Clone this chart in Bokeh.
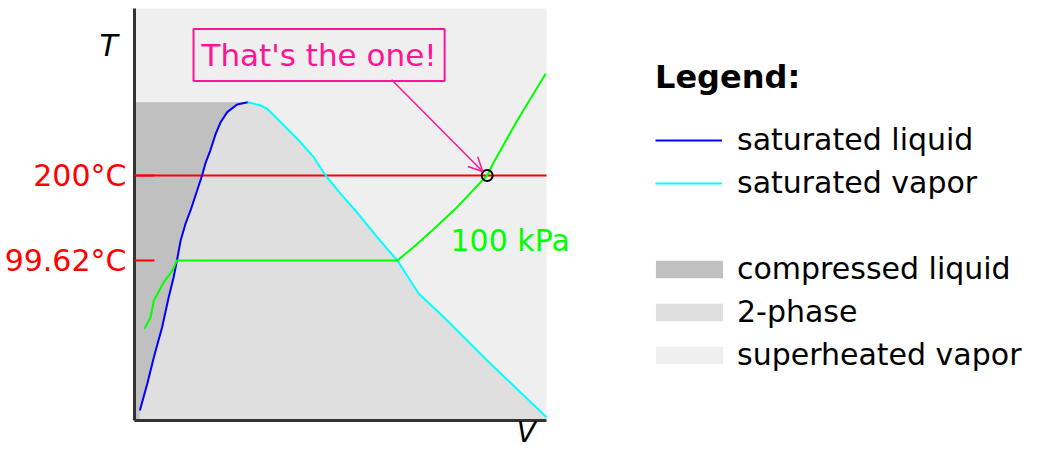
from bokeh.plotting import figure
from bokeh.models import (Range1d, FixedTicker, Label, Arrow, OpenHead,
                          Legend, LegendItem)
from bokeh.embed import file_html
from bokeh.resources import INLINE

FONT = "DejaVu Sans"

# Schematic T-v diagram of water: specific volume in arbitrary units, T in °C
V_MIN, V_MAX = 0.0, 100.0
T_MIN, T_MAX = -89.3, 397.2

V_CRIT, T_CRIT = 27.5, 286.5

# saturated liquid line, from the bottom up to the critical point
sat_liq_v = [1.3, 3.1, 4.7, 6.7, 8.3, 9.5, 10.3, 11.2, 12.4, 13.6, 15.2,
             16.4, 17.2, 18.4, 19.7, 20.9, 22.5, 24.9, 27.5]
sat_liq_T = [-77.5, -46.0, -14.6, 20.9, 56.3, 79.9, 99.62, 123.2, 143.3,
             158.7, 182.3, 200.0, 214.2, 229.5, 249.2, 262.9, 274.8, 283.8,
             286.5]

# saturated vapor line, from the critical point down
sat_vap_v = [27.5, 30.6, 32.2, 34.6, 39.9, 43.5, 46.4, 50.0, 53.6, 58.9,
             63.8, 69.0, 75.1, 85.6, 100.0]
sat_vap_T = [286.5, 282.7, 278.8, 267.3, 241.3, 221.6, 200.0, 178.7, 158.7,
             127.1, 99.62, 60.3, 32.7, -18.5, -85.4]

# 100 kPa isobar
isobar_v = [2.4, 3.9, 4.7, 7.1, 9.2, 10.3, 63.8, 68.2, 72.7, 78.3, 84.0,
            85.6, 87.2, 92.9, 96.1, 99.8]
isobar_T = [18.9, 32.7, 52.4, 74.0, 87.8, 99.62, 99.62, 117.3, 137.1, 162.6,
            192.1, 200.0, 215.7, 265.0, 290.6, 320.1]
isobar_label = "100 kPa"

# the state of interest: 100 kPa, 200 °C
state_v, state_T = 85.6, 200.0

tick_T = [99.62, 200.0]
tick_labels = ["99.62°C", "200°C"]

line_labels = ["saturated liquid", "saturated vapor"]
region_labels = ["compressed liquid", "2-phase", "superheated vapor"]

COL_LIQ = "#0000ff"
COL_VAP = "#00ffff"
COL_ISO = "#00ff00"
COL_RED = "#ff0000"
COL_PINK = "#ff1493"
COL_COMP = "#c0c0c0"
COL_TWO = "#dfdfdf"
COL_SUP = "#efefef"

# page geometry: the diagram box is 412 px square, the rest of the canvas
# holds the axis labels and the legend
W, H = 1044, 450
BOX = 412
LEFT, RIGHT, TOP, BOTTOM = 134, W - 134 - BOX, 8, H - 8 - BOX
sx = (V_MAX - V_MIN) / BOX
sy = (T_MAX - T_MIN) / BOX
x_range = Range1d(V_MIN - LEFT * sx, V_MAX + RIGHT * sx)
y_range = Range1d(T_MIN - BOTTOM * sy, T_MAX + TOP * sy)

p = figure(width=W, height=H, x_range=x_range, y_range=y_range,
           output_backend="svg", toolbar_location=None,
           min_border=0)
p.background_fill_color = "white"
p.border_fill_color = "white"
p.outline_line_color = None
p.grid.visible = False

# phase regions
r_sup = p.quad(left=[V_MIN], right=[V_MAX], bottom=[T_MIN], top=[T_MAX],
               fill_color=COL_SUP, line_color=None)

comp_v = [V_MIN, V_MIN] + sat_liq_v[::-1] + [sat_liq_v[0]]
comp_T = [T_MIN, T_CRIT] + sat_liq_T[::-1] + [T_MIN]
r_comp = p.patch(comp_v, comp_T, fill_color=COL_COMP, line_color=None)

two_v = [sat_liq_v[0]] + sat_liq_v + sat_vap_v[1:] + [V_MAX]
two_T = [T_MIN] + sat_liq_T + sat_vap_T[1:] + [T_MIN]
r_two = p.patch(two_v, two_T, fill_color=COL_TWO, line_color=None)

# 200 °C isotherm across the diagram
p.line([V_MIN, V_MAX], [tick_T[1], tick_T[1]], line_color=COL_RED,
       line_width=2)

# saturation dome and isobar
r_liq = p.line(sat_liq_v, sat_liq_T, line_color=COL_LIQ, line_width=2)
r_vap = p.line(sat_vap_v, sat_vap_T, line_color=COL_VAP, line_width=2)
p.line(isobar_v, isobar_T, line_color=COL_ISO, line_width=2)

p.scatter([state_v], [state_T], marker="circle", size=11,
          fill_color=None, line_color="black", line_width=2)

# axes, pinned to the corner of the diagram box
yax = p.yaxis[0]
yax.fixed_location = V_MIN
yax.bounds = (T_MIN, T_MAX)
yax.ticker = FixedTicker(ticks=tick_T)
yax.major_label_overrides = dict(zip(tick_T, tick_labels))
yax.minor_tick_line_color = None
yax.major_tick_in = 20
yax.major_tick_out = 0
yax.major_tick_line_color = COL_RED
yax.major_tick_line_width = 2
yax.major_label_text_color = COL_RED
yax.major_label_text_font = FONT
yax.major_label_text_font_size = "30px"
yax.major_label_standoff = 8
yax.axis_line_color = "#333333"
yax.axis_line_width = 3

xax = p.xaxis[0]
xax.fixed_location = T_MIN
xax.bounds = (V_MIN, V_MAX)
xax.ticker = FixedTicker(ticks=[])
xax.major_tick_line_color = None
xax.minor_tick_line_color = None
xax.axis_line_color = "#333333"
xax.axis_line_width = 3

# axis symbols
p.add_layout(Label(x=-6.3, y=353.5, text="T", text_align="center",
                   text_baseline="middle", text_font=FONT,
                   text_font_style="italic", text_font_size="30px",
                   text_color="black"))
p.add_layout(Label(x=95.1, y=-103.5, text="V", text_align="center",
                   text_baseline="middle", text_font=FONT,
                   text_font_style="italic", text_font_size="28px",
                   text_color="black"))

# isobar label
p.add_layout(Label(x=76.7, y=123.6, text=isobar_label, text_align="left",
                   text_baseline="middle", text_font=FONT,
                   text_font_size="30px", text_color=COL_ISO))

# callout
p.add_layout(Label(x=44.8, y=342.2, text="That's the one!",
                   text_align="center", text_baseline="middle",
                   text_font=FONT, text_font_size="31px", text_color=COL_PINK,
                   border_line_color=COL_PINK, border_line_width=2,
                   padding=8))
p.add_layout(Arrow(x_start=62.4, y_start=313.0, x_end=84.5, y_end=204.7,
                   line_color=COL_PINK, line_width=1.5,
                   end=OpenHead(size=14, line_color=COL_PINK, line_width=1.5)))


def style_legend(leg):
    leg.label_text_font = FONT
    leg.label_text_font_size = "30px"
    leg.label_text_color = "black"
    leg.label_height = 43
    leg.spacing = 0
    leg.padding = 0
    leg.margin = 0
    leg.border_line_color = None
    leg.background_fill_alpha = 0


# curves legend, with the title
legend_lines = Legend(items=[
    LegendItem(label=line_labels[0], renderers=[r_liq]),
    LegendItem(label=line_labels[1], renderers=[r_vap]),
], title="Legend:", location=(655, 246))
style_legend(legend_lines)
legend_lines.title_text_font = FONT
legend_lines.title_text_font_style = "bold"
legend_lines.title_text_font_size = "32px"
legend_lines.title_text_color = "black"
legend_lines.title_standoff = 22
legend_lines.glyph_width = 67
legend_lines.glyph_height = 18
legend_lines.label_standoff = 15
p.add_layout(legend_lines)

# regions legend (area swatches are drawn inset by 10 % of the glyph box)
legend_regions = Legend(items=[
    LegendItem(label=region_labels[0], renderers=[r_comp]),
    LegendItem(label=region_labels[1], renderers=[r_two]),
    LegendItem(label=region_labels[2], renderers=[r_sup]),
], location=(647, 74))
style_legend(legend_regions)
legend_regions.glyph_width = 84
legend_regions.glyph_height = 22
legend_regions.label_standoff = 6
p.add_layout(legend_regions)

open("out.html", "w").write(file_html(p, INLINE))
